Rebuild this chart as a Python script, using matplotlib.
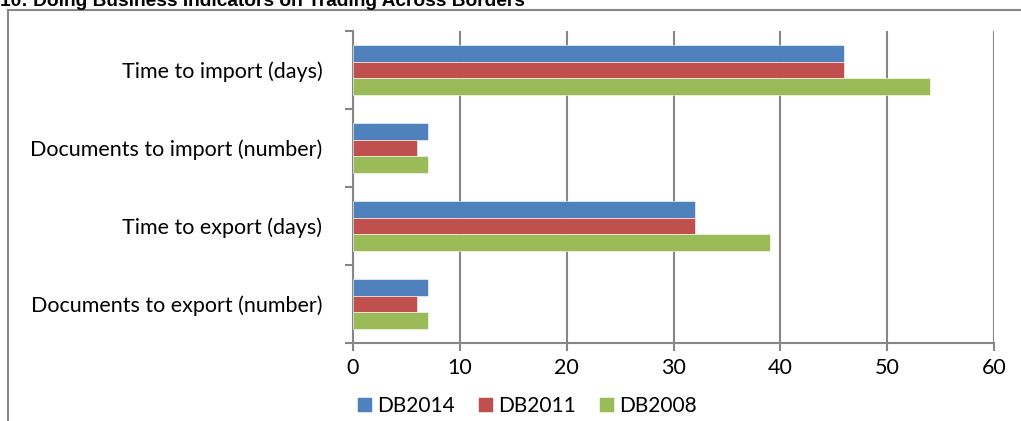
import numpy as np
import matplotlib.pyplot as plt
from matplotlib.lines import Line2D

# data (bottom to top)
categories = ["Documents to export (number)", "Time to export (days)",
              "Documents to import (number)", "Time to import (days)"]
series_names = ["DB2014", "DB2011", "DB2008"]
db2014 = [7, 32, 7, 46]
db2011 = [6, 32, 6, 46]
db2008 = [7, 39, 7, 54]
colors = ["#4F81BD", "#C0504D", "#9BBB59"]
x_ticks = [0, 10, 20, 30, 40, 50, 60]

plt.rcParams["font.family"] = ["Lato", "DejaVu Sans"]
GRID = "#868686"
FS = 15.5

fig = plt.figure(figsize=(10.21, 4.21), dpi=100)
ax = fig.add_axes([353 / 1021, 1 - 343 / 421, (994 - 353) / 1021, (343 - 31) / 421])

y = np.arange(len(categories))
h = 0.217
for i, (vals, name, c) in enumerate(zip([db2014, db2011, db2008], series_names, colors)):
    ax.barh(y + (1 - i) * h, vals, height=h, color=c, label=name,
            edgecolor="white", linewidth=0.4, zorder=3)

ax.set_xlim(0, 60)
ax.set_ylim(-0.5, len(categories) - 0.5)
ax.set_xticks(x_ticks)
ax.set_xticklabels([str(v) for v in x_ticks], fontsize=FS)
ax.xaxis.grid(True, color=GRID, linewidth=1.5, zorder=0)

ax.set_yticks(np.arange(len(categories) + 1) - 0.5)
ax.set_yticklabels([])
ax.set_yticks(y, minor=True)
ax.set_yticklabels(categories, minor=True, fontsize=FS)
ax.tick_params(axis="y", which="minor", length=0, pad=22)
ax.tick_params(axis="y", which="major", length=6, width=1.5, color=GRID)
ax.tick_params(axis="x", length=6, width=1.5, color=GRID, pad=5)

for s in ["top", "right"]:
    ax.spines[s].set_visible(False)
for s in ["left", "bottom"]:
    ax.spines[s].set_color(GRID)
    ax.spines[s].set_linewidth(1.5)

ax.legend(loc="upper center", bbox_to_anchor=(0.271, -0.11), ncol=3, frameon=False,
          fontsize=15, handlelength=0.72, handleheight=0.72, handletextpad=0.25,
          columnspacing=1.1)

# outer chart frame (left and top edges visible)
fx = 8 / 1021
fy = 1 - 10 / 421
fig.add_artist(Line2D([fx, fx], [0, fy], color=GRID, linewidth=1.5))
fig.add_artist(Line2D([fx, 1], [fy, fy], color=GRID, linewidth=1.5))

fig.text(0.0, 1 - 6 / 421, "10: Doing Business Indicators on Trading Across Borders",
         family="Liberation Sans", fontweight="bold", fontsize=13.8, va="baseline", ha="left")

fig.savefig("out.png", dpi=100)
